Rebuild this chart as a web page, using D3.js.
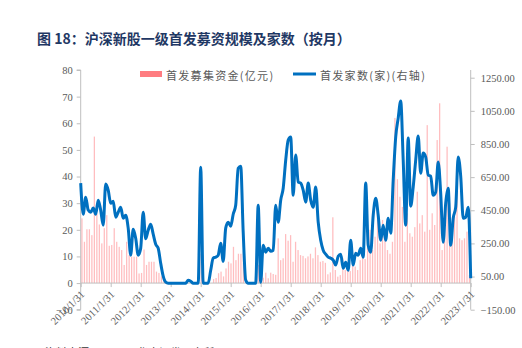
<!DOCTYPE html>
<html><head><meta charset="utf-8">
<script src="https://cdn.jsdelivr.net/npm/d3@7"></script>
<style>
html,body{margin:0;padding:0;background:#fff;}
svg{display:block;}
</style></head>
<body>
<svg id="c" width="522" height="348"></svg>
<script>
// ---- data ----
const tickLabels = ["2010/1/31","2011/1/31","2012/1/31","2013/1/31","2014/1/31","2015/1/31","2016/1/31","2017/1/31","2018/1/31","2019/1/31","2020/1/31","2021/1/31","2022/1/31","2023/1/31"];
const leftTicks = [-10,0,10,20,30,40,50,60,70,80];
const rightTicks = [-150,50,250,450,650,850,1050,1250];
// 首发募集资金(亿元), monthly 2010/1 .. 2023/1
const amount = [
 24.3,15.5,20.2,20.2,18,55,26,22,14.9,20.6,25.5,14,
 14.3,20.6,15.5,13.6,12.4,6.8,15.5,10.5,9.9,9.9,9.9,3.6,
 3.8,12.6,6.8,8,8,8,4.3,3.8,2.5,1.5,0.3,0,
 0,0,0,0,0,0,0,0,0,0,0,0,
 11,0,0,0,0,1.5,1.9,3.7,4.3,2.5,5.5,8,
 7.4,13.6,8.6,11,11,12,1,0,0,0,1,6.8,
 0.5,2,3.9,1.8,3.9,3.4,3.1,16.8,8.6,9.3,18.4,15.9,
 18,8,15.5,12.4,10.5,10.2,9.3,10,11,9.3,13.4,10.5,
 8,8.3,7.6,3.3,4,24.7,4.9,2.4,3,9.3,4.9,8,
 4.5,6.8,6.2,4.9,8.6,9.3,9,22,20,12.4,17.4,27,
 14.9,23.7,18.7,12.4,11,15.5,62,39,32.4,28.6,15.5,26.2,
 18.7,17.4,21,34.3,22.4,25.5,19.3,59.3,20,26.2,21.8,53.7,
 67.5,12.4,20.5,51.2,30,22.4,24.9,43,16.8,16.1,16.8,19.3,
 3
];
// 首发家数(家)(右轴)
const count = [
 614,426,529,451,438,463,426,511,451,360,608,571,
 492,505,408,438,468,402,420,342,179,336,281,179,
 221,438,278,330,366,306,245,221,130,52,16,10,
 10,10,10,10,10,10,10,28,22,10,10,10,
 710,10,10,10,88,161,167,179,251,142,342,378,
 354,426,480,704,716,318,28,10,10,10,10,480,
 16,239,197,221,203,209,480,378,511,583,752,873,
 892,541,783,620,614,571,499,614,511,469,590,378,
 269,209,185,167,161,149,119,173,185,100,136,88,
 269,119,191,179,221,167,614,239,197,420,523,420,
 269,360,269,402,312,632,892,1006,1109,753,360,886,
 475,590,753,898,674,795,771,662,656,541,559,741,
 553,257,493,583,239,402,469,771,656,402,408,469,
 40
];
const seriesNames = ["首发募集资金(亿元)","首发家数(家)(右轴)"];
const title = "图 18：沪深新股一级首发募资规模及家数（按月）";

// ---- layout ----
const svg = d3.select("#c");
const X0 = 80.7, X1 = 470.7, YT = 70, YB = 309.7;
const axisColor = "#bfbfbf", textColor = "#595959";
const serif = "'Liberation Serif','Times New Roman',serif";
const cjk = "'Noto Sans CJK SC','Noto Sans CJK JP',sans-serif";

const xLine = d3.scaleLinear().domain([0, count.length-1]).range([X0, X1]);
const xBand = d3.scaleBand().domain(d3.range(amount.length)).range([X0, X1]);
const yL = d3.scaleLinear().domain([-10, 80]).range([YB, YT]);
const yR = d3.scaleLinear().domain([-150, 1296.5]).range([YB, YT]);

// title
svg.append("text").attr("x",37).attr("y",43.5)
  .attr("font-family",cjk).attr("font-weight","bold").attr("font-size",14)
  .attr("fill","#1f3864").text(title);

// bars
const bw = 1.25;
svg.append("g").selectAll("rect").data(amount).join("rect")
  .attr("x",(d,i)=>xBand(i)+xBand.bandwidth()/2-bw/2)
  .attr("width",bw)
  .attr("y",d=>yL(Math.max(d,0)))
  .attr("height",d=>Math.abs(yL(0)-yL(d)))
  .attr("fill","#ff7c80").attr("fill-opacity",0.5);

// left axis
const gL = svg.append("g").attr("transform",`translate(${X0},0)`)
  .call(d3.axisLeft(yL).tickValues(leftTicks).tickSize(4).tickPadding(4).tickFormat(d3.format("d")));
gL.select(".domain").attr("stroke",axisColor).attr("d",`M-4,${YT}H0V${YB}H-4`);
gL.selectAll(".tick line").attr("stroke",axisColor);
gL.selectAll(".tick text").attr("font-family",serif).attr("font-size",10.5).attr("fill",textColor);

// right axis
const gR = svg.append("g").attr("transform",`translate(${X1},0)`)
  .call(d3.axisRight(yR).tickValues(rightTicks).tickSize(4).tickPadding(6).tickFormat(d3.format(".2f")));
gR.select(".domain").attr("stroke",axisColor).attr("d",`M0,${YT}V${YB}`);
gR.selectAll(".tick line").attr("stroke",axisColor);
gR.selectAll(".tick text").attr("font-family",serif).attr("font-size",10.5).attr("fill",textColor);

// x axis at 0
const y0 = yL(0);
const tickIdx = tickLabels.map((t,k)=>k*12);
const xAxis = d3.axisBottom(d3.scaleLinear().domain(xLine.domain()).range(xLine.range()))
  .tickValues(tickIdx).tickSize(4).tickFormat((d,k)=>tickLabels[k]);
const gX = svg.append("g").attr("transform",`translate(0,${y0})`).call(xAxis);
gX.select(".domain").attr("stroke",axisColor).attr("d",`M${X0},0H${X1}`);
gX.selectAll(".tick line").attr("stroke",axisColor);
gX.selectAll(".tick text")
  .attr("font-family",serif).attr("font-size",10.5).attr("fill",textColor)
  .attr("text-anchor","end").attr("dy",0).attr("y",0)
  .attr("transform","translate(4,12) rotate(-45)");

// line
const line = d3.line().x((d,i)=>xLine(i)).y(d=>yR(d)).curve(d3.curveMonotoneX);
svg.append("path").datum(count).attr("d",line)
  .attr("fill","none").attr("stroke","#0070c0").attr("stroke-width",3).attr("stroke-linejoin","round");

// legend
const lg = svg.append("g");
lg.append("rect").attr("x",140).attr("y",71).attr("width",22).attr("height",6).attr("fill","#ff7c80");
lg.append("text").attr("x",166).attr("y",79.5).attr("font-family",cjk).attr("font-size",11)
  .attr("letter-spacing",1.3).attr("fill",textColor).text(seriesNames[0]);
lg.append("line").attr("x1",293).attr("x2",316).attr("y1",74).attr("y2",74)
  .attr("stroke","#0070c0").attr("stroke-width",3);
lg.append("text").attr("x",320).attr("y",79.5).attr("font-family",cjk).attr("font-size",11)
  .attr("letter-spacing",1.3).attr("fill",textColor).text(seriesNames[1]);

// source (cut off at bottom)
svg.append("text").attr("x",45).attr("y",357).attr("font-family",cjk).attr("font-size",11)
  .attr("fill","#333").text("资料来源：Wind，华泰证券研究所");
</script>
</body></html>
